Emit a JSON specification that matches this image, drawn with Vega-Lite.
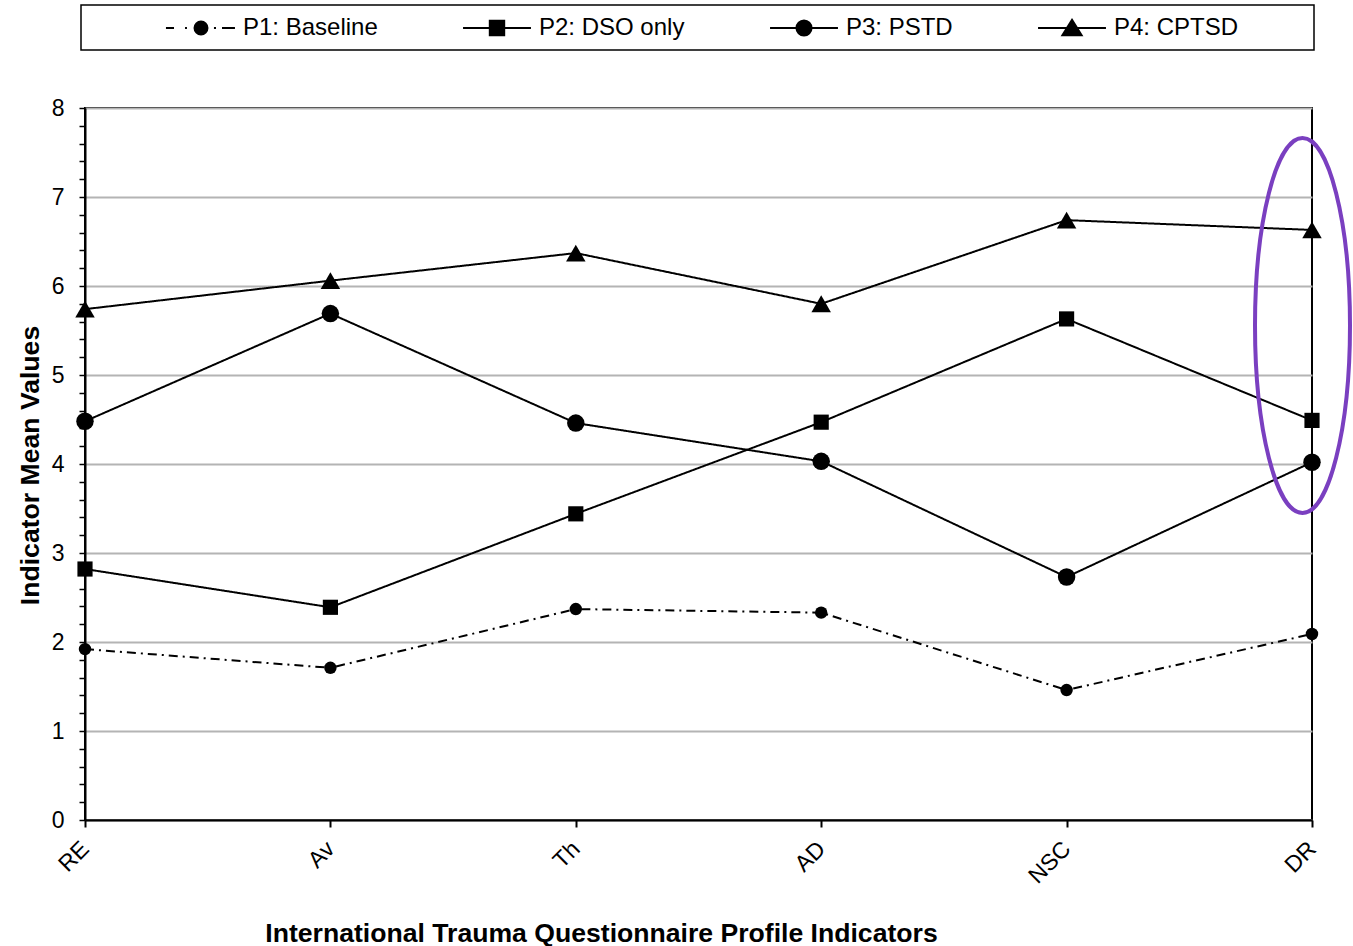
{
  "$schema": "https://vega.github.io/schema/vega-lite/v6.json",
  "width": 1227,
  "height": 712,
  "autosize": {"type": "none"},
  "padding": {"left": 85, "top": 108, "right": 41, "bottom": 126},
  "background": "white",
  "config": {
    "font": "Liberation Sans",
    "view": {"stroke": "black", "strokeWidth": 2},
    "axis": {"domainColor": "black", "domainWidth": 2, "tickColor": "black", "labelColor": "black", "titleColor": "black", "labelFont": "Liberation Sans", "titleFont": "Liberation Sans"},
    "legend": {"strokeWidth": 1.5}
  },
  "data": {
    "values": [
      {"indicator": "RE", "profile": "P1: Baseline", "value": 1.92},
      {"indicator": "Av", "profile": "P1: Baseline", "value": 1.71},
      {"indicator": "Th", "profile": "P1: Baseline", "value": 2.37},
      {"indicator": "AD", "profile": "P1: Baseline", "value": 2.33},
      {"indicator": "NSC", "profile": "P1: Baseline", "value": 1.46},
      {"indicator": "DR", "profile": "P1: Baseline", "value": 2.09},
      {"indicator": "RE", "profile": "P2: DSO only", "value": 2.82},
      {"indicator": "Av", "profile": "P2: DSO only", "value": 2.39},
      {"indicator": "Th", "profile": "P2: DSO only", "value": 3.44},
      {"indicator": "AD", "profile": "P2: DSO only", "value": 4.47},
      {"indicator": "NSC", "profile": "P2: DSO only", "value": 5.63},
      {"indicator": "DR", "profile": "P2: DSO only", "value": 4.49},
      {"indicator": "RE", "profile": "P3: PSTD", "value": 4.48},
      {"indicator": "Av", "profile": "P3: PSTD", "value": 5.69},
      {"indicator": "Th", "profile": "P3: PSTD", "value": 4.46},
      {"indicator": "AD", "profile": "P3: PSTD", "value": 4.03},
      {"indicator": "NSC", "profile": "P3: PSTD", "value": 2.73},
      {"indicator": "DR", "profile": "P3: PSTD", "value": 4.02},
      {"indicator": "RE", "profile": "P4: CPTSD", "value": 5.74},
      {"indicator": "Av", "profile": "P4: CPTSD", "value": 6.06},
      {"indicator": "Th", "profile": "P4: CPTSD", "value": 6.37},
      {"indicator": "AD", "profile": "P4: CPTSD", "value": 5.80},
      {"indicator": "NSC", "profile": "P4: CPTSD", "value": 6.74},
      {"indicator": "DR", "profile": "P4: CPTSD", "value": 6.63}
    ]
  },
  "encoding": {
    "x": {
      "field": "indicator", "type": "nominal",
      "sort": ["RE", "Av", "Th", "AD", "NSC", "DR"],
      "scale": {"type": "point", "padding": 0},
      "axis": {
        "title": "International Trauma Questionnaire Profile Indicators",
        "titleFontSize": 26.6, "titleFontWeight": "bold",
        "titleX": 516, "titleY": 121, "titleBaseline": "alphabetic",
        "labelAngle": -45, "labelAlign": "right", "labelBaseline": "middle",
        "labelFontSize": 23, "labelPadding": 18,
        "tickSize": 7, "tickWidth": 2, "grid": false
      }
    },
    "y": {
      "field": "value", "type": "quantitative",
      "scale": {"domain": [0, 8], "nice": false},
      "axis": {
        "title": "Indicator Mean Values",
        "titleFontSize": 26.6, "titleFontWeight": "bold",
        "titleX": -47, "titleY": 357, "titleBaseline": "alphabetic",
        "values": [0, 0.2, 0.4, 0.6, 0.8, 1, 1.2, 1.4, 1.6, 1.8, 2, 2.2, 2.4, 2.6, 2.8, 3, 3.2, 3.4, 3.6, 3.8, 4, 4.2, 4.4, 4.6, 4.8, 5, 5.2, 5.4, 5.6, 5.8, 6, 6.2, 6.4, 6.6, 6.8, 7, 7.2, 7.4, 7.6, 7.8, 8],
        "labelExpr": "datum.value % 1 === 0 ? format(datum.value, 'd') : ''",
        "labelOverlap": false, "labelFlush": false,
        "labelFontSize": 23, "labelPadding": 15,
        "tickSize": 6, "tickWidth": 1.5,
        "grid": true, "gridWidth": 2,
        "gridColor": {"condition": {"test": "datum.value % 1 === 0", "value": "#b4b4b4"}, "value": "transparent"}
      }
    }
  },
  "layer": [
    {
      "mark": {"type": "line", "strokeWidth": 2, "color": "black"},
      "encoding": {
        "strokeDash": {
          "field": "profile", "type": "nominal",
          "scale": {"domain": ["P1: Baseline", "P2: DSO only", "P3: PSTD", "P4: CPTSD"], "range": [[9, 5, 2, 5], [1, 0], [1, 0], [1, 0]]},
          "legend": null
        }
      }
    },
    {
      "mark": {"type": "point", "filled": true, "color": "black", "opacity": 1},
      "encoding": {
        "shape": {
          "field": "profile", "type": "nominal",
          "scale": {"domain": ["P1: Baseline", "P2: DSO only", "P3: PSTD", "P4: CPTSD"], "range": ["circle", "square", "circle", "triangle-up"]},
          "legend": null
        },
        "size": {
          "field": "profile", "type": "nominal",
          "scale": {"domain": ["P1: Baseline", "P2: DSO only", "P3: PSTD", "P4: CPTSD"], "range": [155, 380, 180, 324]},
          "legend": null
        }
      }
    },
    {
      "transform": [{"filter": "false"}],
      "mark": {"type": "point", "filled": true, "fill": "black", "stroke": "black", "strokeWidth": 2, "opacity": 1},
      "encoding": {
        "shape": {
          "field": "profile", "type": "nominal",
          "scale": {
            "domain": ["P1: Baseline", "P2: DSO only", "P3: PSTD", "P4: CPTSD"],
            "range": [
              "M-2.92,0L-2.25,0M-1.33,0L-1.17,0M1.08,0L1.25,0M1.75,0L2.83,0M0,-0.54C0.298,-0.54,0.54,-0.298,0.54,0C0.54,0.298,0.298,0.54,0,0.54C-0.298,0.54,-0.54,0.298,-0.54,0C-0.54,-0.298,-0.298,-0.54,0,-0.54Z",
              "M-2.83,0L2.83,0M-0.6,-0.6L0.6,-0.6L0.6,0.6L-0.6,0.6Z",
              "M-2.83,0L2.83,0M0,-0.63C0.348,-0.63,0.63,-0.348,0.63,0C0.63,0.348,0.348,0.63,0,0.63C-0.348,0.63,-0.63,0.348,-0.63,0C-0.63,-0.348,-0.348,-0.63,0,-0.63Z",
              "M-2.83,0L2.83,0M0,-0.68L0.8,0.6L-0.8,0.6ZM18.95,0"
            ]
          },
          "legend": {
            "title": " ", "titleOrient": "left", "titleFontSize": 1, "titlePadding": 97,
            "orient": "none", "legendX": -4, "legendY": -103,
            "direction": "horizontal", "columns": 4,
            "symbolSize": 576, "labelOffset": 29, "columnPadding": 81,
            "labelFontSize": 24, "labelFont": "Liberation Sans", "labelColor": "black", "labelLimit": 400,
            "strokeColor": "black", "fillColor": "white", "padding": 10,
            "symbolStrokeWidth": 2, "symbolOpacity": 1,
            "encode": {"symbols": {"stroke": {"value": "black"}, "strokeWidth": {"value": 2}, "fill": {"value": "black"}, "opacity": {"value": 1}}}
          }
        }
      }
    },
    {
      "data": {"values": [{"indicator": "DR", "value": 5.556}]},
      "mark": {
        "type": "point",
        "shape": "M0,-1C0.14,-1,0.2533,-0.5523,0.2533,0C0.2533,0.5523,0.14,1,0,1C-0.14,1,-0.2533,0.5523,-0.2533,0C-0.2533,-0.5523,-0.14,-1,0,-1Z",
        "size": 140625, "filled": false, "stroke": "#7a3fc0", "strokeWidth": 4, "opacity": 1, "xOffset": -9.5
      }
    }
  ],
  "resolve": {"scale": {"shape": "independent"}}
}
